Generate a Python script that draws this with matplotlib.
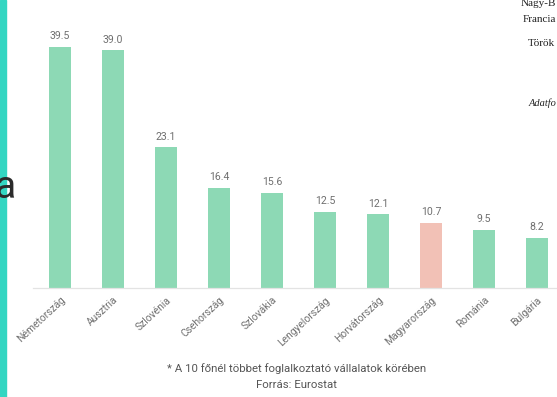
import matplotlib.pyplot as plt
from matplotlib.patches import Rectangle

countries = ['Németország', 'Ausztria', 'Szlovénia', 'Csehország', 'Szlovákia',
             'Lengyelország', 'Horvátország', 'Magyarország', 'Románia', 'Bulgária']
values = [39.5, 39.0, 23.1, 16.4, 15.6, 12.5, 12.1, 10.7, 9.5, 8.2]
highlight = 'Magyarország'

side_labels = ['Nagy-B', 'Francia', 'Török']

W, H = 557, 397
fig = plt.figure(figsize=(W / 100, H / 100), dpi=100)
fig.patch.set_facecolor('white')

green = '#8dd9b5'
pink = '#f2c1b6'
colors = [pink if c == highlight else green for c in countries]

# axes placed in pixel terms: baseline at y=288, plot from x=33 to the right edge
left, right, base, top = 33, 557, 288, 40
ax = fig.add_axes([left / W, (H - base) / H, (right - left) / W, (base - top) / H])
step = 53.0
x = list(range(len(countries)))
ax.bar(x, values, width=22 / step, color=colors, zorder=2)
ax.set_xlim(-(60 - left) / step, -(60 - left) / step + (right - left) / step)
ax.set_ylim(0, (base - top) / 6.1)

for xi, v in zip(x, values):
    ax.annotate(f'{v:.1f}', (xi, v), xytext=(0, 4), textcoords='offset points',
                ha='center', va='bottom', fontsize=7.6, color='#6f6f6f',
                family='Roboto')

for s in ['top', 'right', 'left']:
    ax.spines[s].set_visible(False)
ax.spines['bottom'].set_color('#e3e3e3')
ax.spines['bottom'].set_linewidth(0.9)
ax.set_yticks([])
ax.set_xticks(x)
ax.set_xticklabels(countries, rotation=43, ha='right', rotation_mode='anchor',
                   fontsize=7.4, color='#707070', family='Roboto')
ax.tick_params(axis='x', length=0, pad=5)
ax.patch.set_alpha(0)

# footnote
fig.text(297 / W, 1 - 369 / H, '* A 10 főnél többet foglalkoztató vállalatok körében',
         ha='center', va='center', fontsize=8.2, color='#555555', family='Roboto')
fig.text(297 / W, 1 - 385 / H, 'Forrás: Eurostat',
         ha='center', va='center', fontsize=8.2, color='#555555', family='Roboto')

# slide edge on the left
fig.patches.append(Rectangle((0, 0), 6 / W, 1, transform=fig.transFigure,
                             color='#33d6c2', zorder=0))
fig.text(16 / W, 1 - 198 / H, 'a', ha='right', va='baseline', fontsize=28,
         color='#2b2b2b', family='Roboto', zorder=3)

# neighbouring table text on the right
fig.text(556 / W, 1 - 3 / H, side_labels[0], ha='right', va='center',
         fontsize=8, color='#222222', family='Liberation Serif')
fig.text(556 / W, 1 - 20 / H, side_labels[1], ha='right', va='center',
         fontsize=8, color='#222222', family='Liberation Serif')
fig.text(555 / W, 1 - 43 / H, side_labels[2], ha='right', va='center',
         fontsize=8, color='#222222', family='Liberation Serif')
fig.text(556 / W, 1 - 103 / H, 'Adatfo', ha='right', va='center',
         fontsize=7.5, color='#222222', family='Liberation Serif', style='italic')

fig.savefig('out.png', dpi=100)
